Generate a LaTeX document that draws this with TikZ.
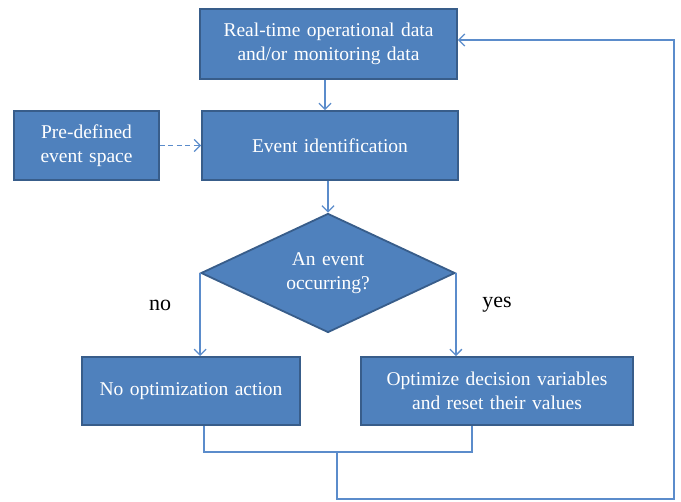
\documentclass[tikz,border=0pt]{standalone}
\usepackage{fontspec}
\setmainfont{Liberation Serif}
\usetikzlibrary{shapes.geometric,arrows.meta}
\definecolor{boxfill}{HTML}{4F81BD}
\definecolor{boxline}{HTML}{385D8A}
\definecolor{conn}{HTML}{5B8CCB}
\newcommand{\myboxfont}{\fontsize{19.5}{24.5}\selectfont\spaceskip=0.33em\relax}
\tikzset{
  box/.style={draw=boxline, line width=1.8pt, fill=boxfill, text=white,
    font=\myboxfont, align=center, inner sep=0pt},
  diam/.style={box, shape=diamond, shape aspect=2.13},
  wire/.style={draw=conn, line width=1.3pt},
  arr/.style={wire, -{Straight Barb[length=6pt,width=12pt,line width=1.3pt]}},
  lbl/.style={font=\fontsize{22}{26}\selectfont, text=black, inner sep=0pt}
}
\begin{document}
\begin{tikzpicture}[x=1pt,y=-1pt]
\useasboundingbox (0,0) rectangle (681,502);
\node[box, minimum width=257, minimum height=70] (top) at (328.5,44) {Real-time operational data\\and/or monitoring data};
\node[box, minimum width=256, minimum height=69] (event) at (330,145.5) {Event identification};
\node[box, minimum width=145, minimum height=69] (pre) at (86.5,145.5) {Pre-defined\\event space};
\node[diam, minimum width=254, minimum height=119] (d) at (328,273) {An event\\occurring?};
\node[box, minimum width=218, minimum height=68] (bl) at (191,391) {No optimization action};
\node[box, minimum width=272, minimum height=68] (br) at (497,391) {Optimize decision variables\\and reset their values};
\node[lbl] (no) at (160,305) {no};
\node[lbl] (yes) at (497,305) {yes};
\coordinate (j1) at (204,452);
\coordinate (j2) at (472,452);
\coordinate (jm) at (337,452);
\coordinate (c1) at (337,499);
\coordinate (c2) at (674,499);
\coordinate (c3) at (674,40);
\draw[arr] (top.south -| 325,0) -- (event.north -| 325,0);
\draw[arr, dash pattern=on 5pt off 3.5pt] (pre.east) -- (event.west);
\draw[arr] (event.south -| d.north) -- (d.north);
\draw[arr] (d.west) -- (d.west |- bl.north);
\draw[arr] (d.east) -- (d.east |- br.north);
\draw[wire] (bl.south -| j1) -- (j1) -- (j2) -- (br.south -| j2);
\draw[arr] (jm) -- (c1) -- (c2) -- (c3) -- (c3 -| top.east);
\end{tikzpicture}
\end{document}
